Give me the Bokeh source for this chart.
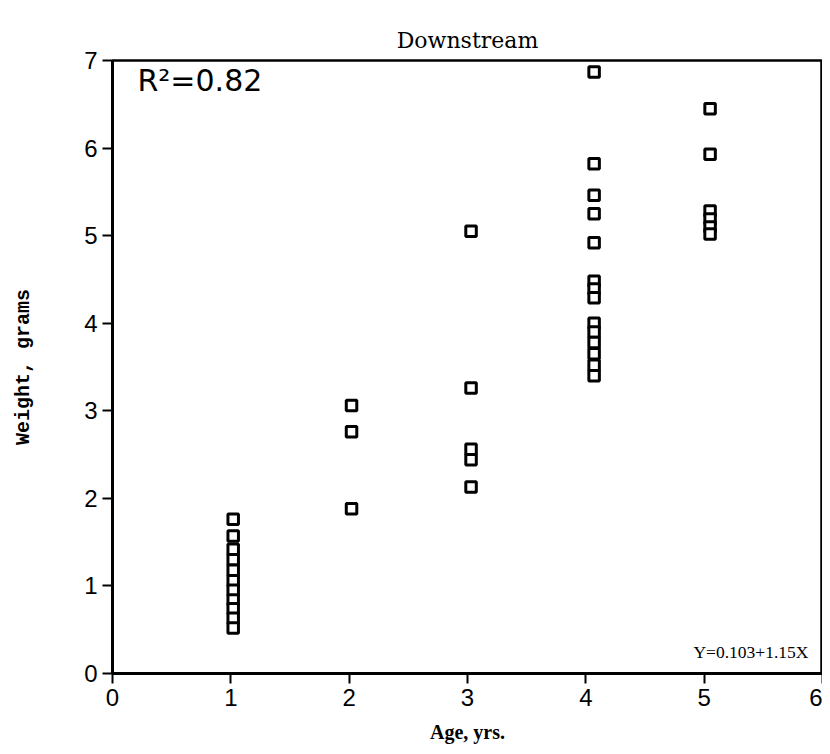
from bokeh.plotting import figure
from bokeh.models import Range1d, Label, FixedTicker, Title
from bokeh.embed import file_html
from bokeh.resources import INLINE

# Data
age_1 = [1.02] * 11
wt_1 = [1.76, 1.57, 1.42, 1.30, 1.18, 1.06, 0.95, 0.84, 0.74, 0.63, 0.52]
age_2 = [2.02] * 3
wt_2 = [3.06, 2.76, 1.88]
age_3 = [3.03] * 5
wt_3 = [5.05, 3.26, 2.56, 2.44, 2.13]
age_4 = [4.07] * 14
wt_4 = [6.87, 5.82, 5.46, 5.25, 4.92, 4.48, 4.39, 4.29, 4.0, 3.9, 3.78, 3.65, 3.52, 3.40]
age_5 = [5.05] * 6
wt_5 = [6.45, 5.93, 5.28, 5.19, 5.10, 5.02]

ages = age_1 + age_2 + age_3 + age_4 + age_5
weights = wt_1 + wt_2 + wt_3 + wt_4 + wt_5

x_ticks = [0, 1, 2, 3, 4, 5, 6]
y_ticks = [0, 1, 2, 3, 4, 5, 6, 7]

p = figure(width=822, height=745, output_backend="svg", toolbar_location=None,
           x_range=Range1d(0, 6), y_range=Range1d(0, 7),
           min_border_left=112, min_border_right=0, min_border_top=60, min_border_bottom=70)
p.title = Title(text="Downstream", align="center", text_font="DejaVu Serif",
                text_font_size="22px", text_font_style="normal", text_color="black",
                standoff=16)
p.grid.visible = False
p.outline_line_color = "black"
p.outline_line_width = 2.5
p.background_fill_color = "white"
p.border_fill_color = "white"

for ax in (p.xaxis[0], p.yaxis[0]):
    ax.axis_line_width = 3
    ax.axis_line_color = "black"
    ax.major_tick_line_width = 2
    ax.major_tick_out = 10
    ax.major_tick_in = 0
    ax.minor_tick_line_color = None
    ax.major_label_text_font = "Liberation Sans"
    ax.major_label_text_font_size = "24px"
    ax.major_label_text_color = "black"
    ax.axis_label_text_font_style = "bold"
    ax.axis_label_text_color = "black"

p.xaxis.major_label_standoff = 5
p.yaxis.major_label_standoff = 5
p.xaxis.ticker = FixedTicker(ticks=x_ticks)
p.yaxis.ticker = FixedTicker(ticks=y_ticks)
p.xaxis.axis_label = "Age, yrs."
p.yaxis.axis_label = "Weight, grams"
p.xaxis.axis_label_text_font = "Liberation Serif"
p.xaxis.axis_label_text_font_size = "20px"
p.yaxis.axis_label_text_font = "Liberation Mono"
p.yaxis.axis_label_text_font_size = "20px"
p.xaxis.axis_label_standoff = 12
p.yaxis.axis_label_standoff = 46

p.scatter(ages, weights, marker="square", size=10.5, fill_color="white",
          line_color="black", line_width=3)

p.add_layout(Label(x=25, y=576, x_units="screen", y_units="screen",
                   text="R²=0.82", text_font="DejaVu Sans",
                   text_font_size="30px", text_color="black"))
p.add_layout(Label(x=696, y=12, x_units="screen", y_units="screen",
                   text="Y=0.103+1.15X", text_font="Liberation Serif",
                   text_font_size="17.5px", text_color="black", text_align="right"))

open("out.html", "w").write(file_html(p, INLINE))
